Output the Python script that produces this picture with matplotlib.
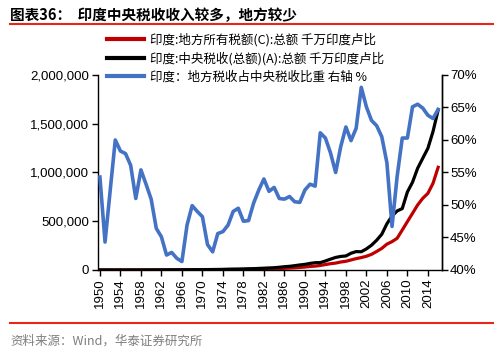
import numpy as np
import matplotlib
matplotlib.use("Agg")
import matplotlib.pyplot as plt
from matplotlib.ticker import FuncFormatter

plt.rcParams["font.family"] = ["Liberation Sans", "Noto Sans CJK SC", "DejaVu Sans"]

years = np.arange(1950, 2017)

# 千万印度卢比
central_tax = [
    405, 500, 490, 460, 480, 520, 580, 720, 780, 860,
    1000, 1180, 1420, 1870, 2080, 2300, 2600, 2800, 2960, 3250,
    3500, 4100, 4900, 5500, 6500, 8100, 9000, 9700, 11000, 12500,
    13700, 16000, 18500, 20800, 23400, 28000, 33500, 37600, 44200, 51600,
    57600, 67400, 74600, 75700, 92300, 111200, 128800, 139000, 143800, 171800,
    188600, 187100, 216300, 254300, 304900, 366200, 473500, 554000, 605300, 630000,
    800000, 900000, 1043000, 1146000, 1248000, 1420000, 1641000,
]
local_tax = [
    220, 220, 255, 275, 280, 300, 325, 370, 430, 460,
    510, 550, 640, 790, 890, 960, 1070, 1310, 1480, 1590,
    1690, 1800, 2100, 2500, 2980, 3800, 4400, 4800, 5200, 5950,
    6900, 8400, 10000, 10800, 12300, 14300, 17000, 19300, 22300, 26000,
    30100, 35900, 39500, 46200, 55600, 64400, 70800, 82000, 89200, 102900,
    116600, 127300, 140700, 160500, 189800, 221500, 265000, 291000, 325000, 410000,
    496000, 581000, 667000, 735000, 786000, 889000, 1053000,
]
local_share = [
    54.3, 44.3, 52.2, 60.0, 58.3, 57.9, 56.1, 51.0, 55.4, 53.2,
    50.9, 46.4, 45.1, 42.3, 42.7, 41.8, 41.3, 46.9, 49.9, 49.0,
    48.2, 43.9, 42.8, 45.6, 45.9, 46.9, 49.0, 49.5, 47.5, 47.6,
    50.3, 52.3, 54.0, 52.1, 52.7, 51.0, 50.9, 51.3, 50.5, 50.4,
    52.3, 53.2, 52.9, 61.1, 60.3, 58.0, 55.0, 59.0, 62.0, 59.9,
    61.8, 68.1, 65.1, 63.0, 62.2, 60.5, 56.5, 46.7, 54.4, 60.3,
    60.3, 65.1, 65.5, 64.9, 63.8, 63.3, 64.7,
]

label_local = "印度:地方所有税额(C):总额 千万印度卢比"
label_central = "印度:中央税收(总额)(A):总额 千万印度卢比"
label_share = "印度：地方税收占中央税收比重 右轴 %"

cjk = ["Noto Sans CJK SC", "DejaVu Sans"]

fig = plt.figure(figsize=(4.98, 3.52), dpi=100)
ax = fig.add_axes([0.196, 0.233, 0.691, 0.554])
ax2 = ax.twinx()

l1, = ax.plot(years, local_tax, color="#C00000", lw=2.3)
l2, = ax.plot(years, central_tax, color="black", lw=2.3)
l3, = ax2.plot(years, local_share, color="#4472C4", lw=2.6)

ax.set_xlim(1949.55, 2016.7)
ax.set_ylim(0, 2000000)
ax.set_yticks(np.arange(0, 2000001, 500000))
ax.yaxis.set_major_formatter(FuncFormatter(lambda v, p: f"{int(v):,}"))
ax2.set_ylim(40, 70)
ax2.set_yticks(np.arange(40, 71, 5))
ax2.yaxis.set_major_formatter(FuncFormatter(lambda v, p: f"{int(v)}%"))

ax.set_xticks(np.arange(1950, 2015, 4))
ax.set_xticklabels([str(y) for y in range(1950, 2015, 4)], rotation=90)

for a in (ax, ax2):
    a.spines["top"].set_visible(False)
    for s in a.spines.values():
        s.set_linewidth(1.0)
    a.tick_params(labelsize=9.5, length=4, width=1.0, pad=2)
ax2.spines["left"].set_visible(False)
ax2.spines["bottom"].set_visible(False)

leg = fig.legend([l1, l2, l3], [label_local, label_central, label_share],
                 loc="upper left", bbox_to_anchor=(0.203, 0.925), frameon=False,
                 prop={"family": cjk, "size": 9},
                 handlelength=2.9, handletextpad=0.55, labelspacing=0.42, borderpad=0)
for h in leg.legend_handles:
    h.set_linewidth(3)

fig.text(0.02, 0.958, "图表36：  印度中央税收收入较多，地方较少",
         family=cjk, fontsize=10.5, weight="bold", va="center", ha="left")
fig.add_artist(plt.Line2D([0.02, 0.99], [0.932, 0.932], color="#E8261C", lw=1.5))
fig.add_artist(plt.Line2D([0.02, 0.99], [0.083, 0.083], color="#E8261C", lw=1.5))
fig.text(0.02, 0.03, "资料来源：Wind，华泰证券研究所",
         family=cjk, fontsize=9, color="#7F7F7F", va="center", ha="left")

fig.savefig("out.png", dpi=100)
